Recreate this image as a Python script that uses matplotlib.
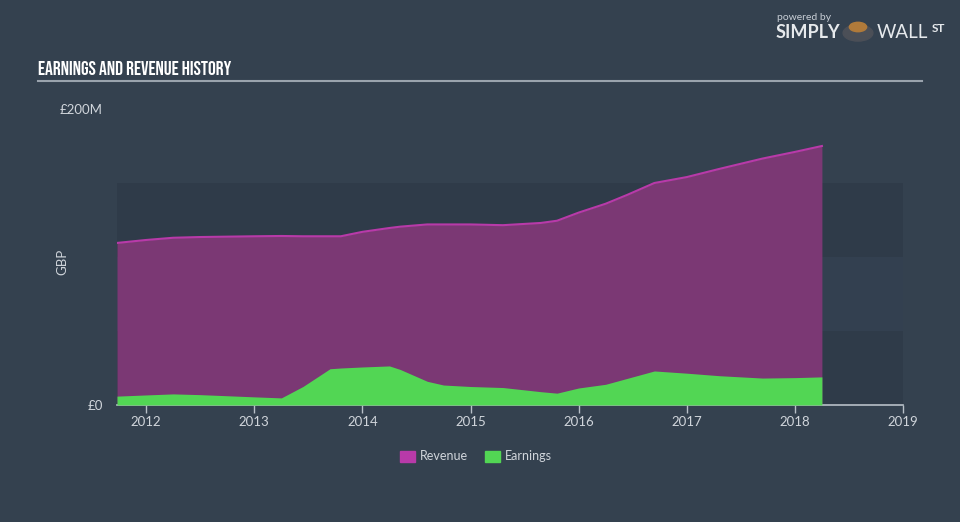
"""
Earnings and revenue history (GBP), Simply Wall St style area chart.
"""
import matplotlib.pyplot as plt
from matplotlib.patches import Rectangle

# 데이터 (단위: 백만 GBP)
YEARS = [2011.73, 2012.0, 2012.25, 2012.5, 2013.0, 2013.25, 2013.45, 2013.7, 2013.8,
         2014.0, 2014.25, 2014.35, 2014.6, 2014.75, 2015.0, 2015.3, 2015.65, 2015.8,
         2016.0, 2016.25, 2016.45, 2016.7, 2017.0, 2017.3, 2017.7, 2018.0, 2018.25]
REVENUE = [109.5, 111.5, 113.0, 113.5, 114.0, 114.2, 114.0, 114.0, 114.0,
           117.0, 119.6, 120.5, 122.0, 122.0, 122.0, 121.5, 123.0, 124.5,
           130.0, 136.0, 142.0, 150.0, 154.0, 159.5, 166.5, 171.0, 175.0]
EARNINGS = [6.0, 6.8, 7.5, 7.0, 5.5, 4.8, 12.5, 24.5, 25.0,
            25.7, 26.4, 24.0, 16.0, 13.5, 12.5, 11.8, 9.0, 8.0,
            11.5, 14.0, 18.0, 23.0, 21.5, 19.8, 18.2, 18.5, 19.0]
X_TICKS = [2012, 2013, 2014, 2015, 2016, 2017, 2018, 2019]

BG = '#34414f'
BAND = '#2f3b49'
REV_FILL = '#7b3874'
REV_LINE = '#b83aa9'
EARN = '#52d654'
TXT = '#d0d5db'

plt.rcParams['font.family'] = ['Lato', 'DejaVu Sans']
TITLE_FONT = ['Bebas Neue', 'Oswald', 'Fjalla One', 'Roboto Condensed', 'DejaVu Sans']

fig = plt.figure(figsize=(9.6, 5.22), dpi=100, facecolor=BG)
ax = fig.add_axes([117 / 960, 1 - 405 / 522, (903 - 117) / 960, (405 - 109) / 522])
ax.set_facecolor(BG)

# 배경 밴드
for lo, hi, c in [(0, 50, BAND), (50, 100, '#334050'), (100, 150, BAND)]:
    ax.axhspan(lo, hi, color=c, zorder=0, lw=0)

ax.fill_between(YEARS, 0, REVENUE, color=REV_FILL, lw=0, zorder=1)
ax.plot(YEARS, REVENUE, color=REV_LINE, lw=1.5, zorder=2)
ax.fill_between(YEARS, 0, EARNINGS, color=EARN, lw=0, zorder=3)

ax.set_xlim(2011.73, 2019.0)
ax.set_ylim(0, 200)
for s in ['top', 'right', 'left']:
    ax.spines[s].set_visible(False)
ax.spines['bottom'].set_color('#b8c0c8')
ax.spines['bottom'].set_linewidth(1.2)

ax.set_xticks(X_TICKS)
ax.set_xticklabels([str(y) for y in X_TICKS], fontsize=9.5, color=TXT)
ax.tick_params(axis='x', colors='#b8c0c8', length=6, width=1, pad=2)
ax.tick_params(axis='x', labelcolor=TXT)
ax.set_yticks([0, 200])
ax.set_yticklabels(['£0', '£200M'], fontsize=9.5, color=TXT)
ax.tick_params(axis='y', length=0, pad=10)

fig.text(62 / 960, 1 - 262 / 522, 'GBP', color=TXT, fontsize=9.5, rotation=90,
         ha='center', va='center')

# 제목과 구분선
fig.text(38 / 960, 1 - 68 / 522, 'EARNINGS AND REVENUE HISTORY', color='white',
         fontsize=14, va='center', family=TITLE_FONT)
fig.add_artist(plt.Line2D([38 / 960, 922 / 960], [1 - 81 / 522, 1 - 81 / 522],
                          color='#9aa3ad', lw=1.5))

# 로고 텍스트
fig.text(777 / 960, 1 - 18 / 522, 'powered by', color='#c8ced6', fontsize=7.5, va='center')
fig.text(776 / 960, 1 - 32 / 522, 'SIMPLY', color='#e6e9ec', fontsize=13,
         fontweight='bold', va='center')
fig.add_artist(plt.Circle((858 / 960, 1 - 33 / 522), 0.0155, transform=fig.transFigure,
                          color='#4b4f57'))
fig.add_artist(plt.Circle((858 / 960, 1 - 27 / 522), 0.009, transform=fig.transFigure,
                          color='#b07a3a'))
fig.text(877 / 960, 1 - 32 / 522, 'WALL', color='#e6e9ec', fontsize=13.5, va='center')
fig.text(932 / 960, 1 - 29 / 522, 'ST', color='#e6e9ec', fontsize=8.5,
         fontweight='bold', va='center')

# 범례
for x0, c, lab in [(400, REV_LINE, 'Revenue'), (485, EARN, 'Earnings')]:
    fig.add_artist(Rectangle((x0 / 960, 1 - 462 / 522), 15 / 960, 11 / 522,
                             transform=fig.transFigure, color=c))
    fig.text((x0 + 20) / 960, 1 - 456 / 522, lab, color=TXT, fontsize=9, va='center')

fig.savefig('out.png', dpi=100, facecolor=BG)
